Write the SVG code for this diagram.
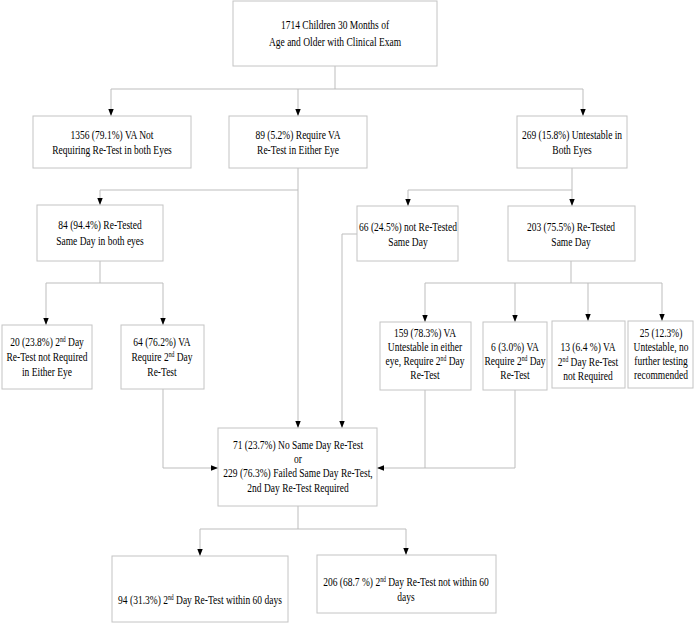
<svg xmlns="http://www.w3.org/2000/svg" width="695" height="623" viewBox="0 0 695 623">
<style>
.box{fill:#ffffff;stroke:#c4c4c4;stroke-width:1}
.ln{fill:none;stroke:#bdbdbd;stroke-width:1}
.t{font-family:'Liberation Serif','DejaVu Serif',serif;font-size:12.5px;fill:#000;text-anchor:middle}
.sup{font-size:7.5px}
</style>
<defs>
<marker id="ah" markerUnits="userSpaceOnUse" markerWidth="8" markerHeight="6" refX="7" refY="3" orient="auto">
<path d="M0,0.3 L7,3 L0,5.7 z" fill="#000"/>
</marker>
</defs>
<rect width="695" height="623" fill="#fff"/>
<g id="connectors">
<path class="ln" d="M335,66 V89 M111,89 H583"/>
<path class="ln" d="M111,89 V116" marker-end="url(#ah)"/>
<path class="ln" d="M298,89 V116" marker-end="url(#ah)"/>
<path class="ln" d="M583,89 V116" marker-end="url(#ah)"/>
<path class="ln" d="M298,168 V428" marker-end="url(#ah)"/>
<path class="ln" d="M298,190 H100 V205" marker-end="url(#ah)"/>
<path class="ln" d="M572,168 V206" marker-end="url(#ah)"/>
<path class="ln" d="M572,190 H408 V206" marker-end="url(#ah)"/>
<path class="ln" d="M100,261 V283 M46,283 H163"/>
<path class="ln" d="M46,283 V325" marker-end="url(#ah)"/>
<path class="ln" d="M163,283 V325" marker-end="url(#ah)"/>
<path class="ln" d="M163,389 V468 H218" marker-end="url(#ah)"/>
<path class="ln" d="M357,234 H342 V428" marker-end="url(#ah)"/>
<path class="ln" d="M571,261 V283 M425,283 H662"/>
<path class="ln" d="M425,283 V322" marker-end="url(#ah)"/>
<path class="ln" d="M515,283 V322" marker-end="url(#ah)"/>
<path class="ln" d="M588,283 V321" marker-end="url(#ah)"/>
<path class="ln" d="M662,283 V321" marker-end="url(#ah)"/>
<path class="ln" d="M425,390 V468"/>
<path class="ln" d="M515,390 V468 H377" marker-end="url(#ah)"/>
<path class="ln" d="M298,506 V529 M200,529 H406"/>
<path class="ln" d="M200,529 V556" marker-end="url(#ah)"/>
<path class="ln" d="M406,529 V555" marker-end="url(#ah)"/>
</g>
<g id="n1714">
<rect class="box" x="233" y="1" width="204" height="65"/>
<text class="t" font-family="Liberation Serif, serif" transform="translate(335 29) scale(.76 1)"><tspan x="0" y="0">1714 Children 30 Months of</tspan><tspan x="0" y="17">Age and Older with Clinical Exam</tspan></text>
</g>
<g id="n1356">
<rect class="box" x="33" y="116" width="158" height="52"/>
<text class="t" transform="translate(112 139) scale(.76 1)"><tspan x="0" y="0">1356 (79.1%) VA Not</tspan><tspan x="0" y="15">Requiring Re-Test in both Eyes</tspan></text>
</g>
<g id="n89">
<rect class="box" x="229" y="116" width="138" height="52"/>
<text class="t" transform="translate(298 139) scale(.76 1)"><tspan x="0" y="0">89 (5.2%) Require VA</tspan><tspan x="0" y="15">Re-Test in Either Eye</tspan></text>
</g>
<g id="n269">
<rect class="box" x="517" y="116" width="110" height="52"/>
<text class="t" transform="translate(572 139) scale(.76 1)"><tspan x="0" y="0">269 (15.8%) Untestable in</tspan><tspan x="0" y="15">Both Eyes</tspan></text>
</g>
<g id="n84">
<rect class="box" x="37" y="205" width="126" height="56"/>
<text class="t" transform="translate(100 229) scale(.76 1)"><tspan x="0" y="0">84 (94.4%) Re-Tested</tspan><tspan x="0" y="16">Same Day in both eyes</tspan></text>
</g>
<g id="n66">
<rect class="box" x="357" y="206" width="101" height="55"/>
<text class="t" transform="translate(408 231) scale(.76 1)"><tspan x="0" y="0">66 (24.5%) not Re-Tested</tspan><tspan x="0" y="15">Same Day</tspan></text>
</g>
<g id="n203">
<rect class="box" x="508" y="206" width="127" height="55"/>
<text class="t" transform="translate(571 231) scale(.76 1)"><tspan x="0" y="0">203 (75.5%) Re-Tested</tspan><tspan x="0" y="15">Same Day</tspan></text>
</g>
<g id="n20">
<rect class="box" x="2" y="325" width="90" height="64"/>
<text class="t" transform="translate(47 346) scale(.76 1)"><tspan x="0" y="0">20 (23.8%) 2<tspan class="sup" dy="-4">nd</tspan><tspan dy="4"> Day</tspan></tspan><tspan x="0" y="15">Re-Test not Required</tspan><tspan x="0" y="30">in Either Eye</tspan></text>
</g>
<g id="n64">
<rect class="box" x="121" y="325" width="83" height="64"/>
<text class="t" transform="translate(162 346) scale(.76 1)"><tspan x="0" y="0">64 (76.2%) VA</tspan><tspan x="0" y="15">Require 2<tspan class="sup" dy="-4">nd</tspan><tspan dy="4"> Day</tspan></tspan><tspan x="0" y="30">Re-Test</tspan></text>
</g>
<g id="n159">
<rect class="box" x="380" y="322" width="91" height="68"/>
<text class="t" transform="translate(425 337) scale(.76 1)"><tspan x="0" y="0">159 (78.3%) VA</tspan><tspan x="0" y="14.5">Untestable in either</tspan><tspan x="0" y="28.5">eye, Require 2<tspan class="sup" dy="-4">nd</tspan><tspan dy="4"> Day</tspan></tspan><tspan x="0" y="42">Re-Test</tspan></text>
</g>
<g id="n6">
<rect class="box" x="483" y="322" width="64" height="68"/>
<text class="t" transform="translate(515 351) scale(.76 1)"><tspan x="0" y="0">6 (3.0%) VA</tspan><tspan x="0" y="14">Require 2<tspan class="sup" dy="-4">nd</tspan><tspan dy="4"> Day</tspan></tspan><tspan x="0" y="28">Re-Test</tspan></text>
</g>
<g id="n13">
<rect class="box" x="552" y="321" width="73" height="67"/>
<text class="t" transform="translate(588 351) scale(.76 1)"><tspan x="0" y="0">13 (6.4 %) VA</tspan><tspan x="0" y="15">2<tspan class="sup" dy="-4">nd</tspan><tspan dy="4"> Day Re-Test</tspan></tspan><tspan x="0" y="29">not Required</tspan></text>
</g>
<g id="n25">
<rect class="box" x="628" y="321" width="65" height="67"/>
<text class="t" transform="translate(661 337) scale(.76 1)"><tspan x="0" y="0">25 (12.3%)</tspan><tspan x="0" y="14.5">Untestable, no</tspan><tspan x="0" y="28.5">further testing</tspan><tspan x="0" y="42">recommended</tspan></text>
</g>
<g id="n71">
<rect class="box" x="218" y="428" width="159" height="78"/>
<text class="t" transform="translate(298 449) scale(.76 1)"><tspan x="0" y="0">71 (23.7%) No Same Day Re-Test</tspan><tspan x="0" y="14.5">or</tspan><tspan x="0" y="28.5">229 (76.3%) Failed Same Day Re-Test,</tspan><tspan x="0" y="43">2nd Day Re-Test Required</tspan></text>
</g>
<g id="n94">
<rect class="box" x="112" y="556" width="176" height="66"/>
<text class="t" transform="translate(200 604) scale(.76 1)"><tspan x="0" y="0">94 (31.3%) 2<tspan class="sup" dy="-4">nd</tspan><tspan dy="4"> Day Re-Test within 60 days</tspan></tspan></text>
</g>
<g id="n206">
<rect class="box" x="317" y="555" width="179" height="58"/>
<text class="t" transform="translate(406 586) scale(.76 1)"><tspan x="0" y="0">206 (68.7 %) 2<tspan class="sup" dy="-4">nd</tspan><tspan dy="4"> Day Re-Test not within 60</tspan></tspan><tspan x="0" y="15">days</tspan></text>
</g>
</svg>
